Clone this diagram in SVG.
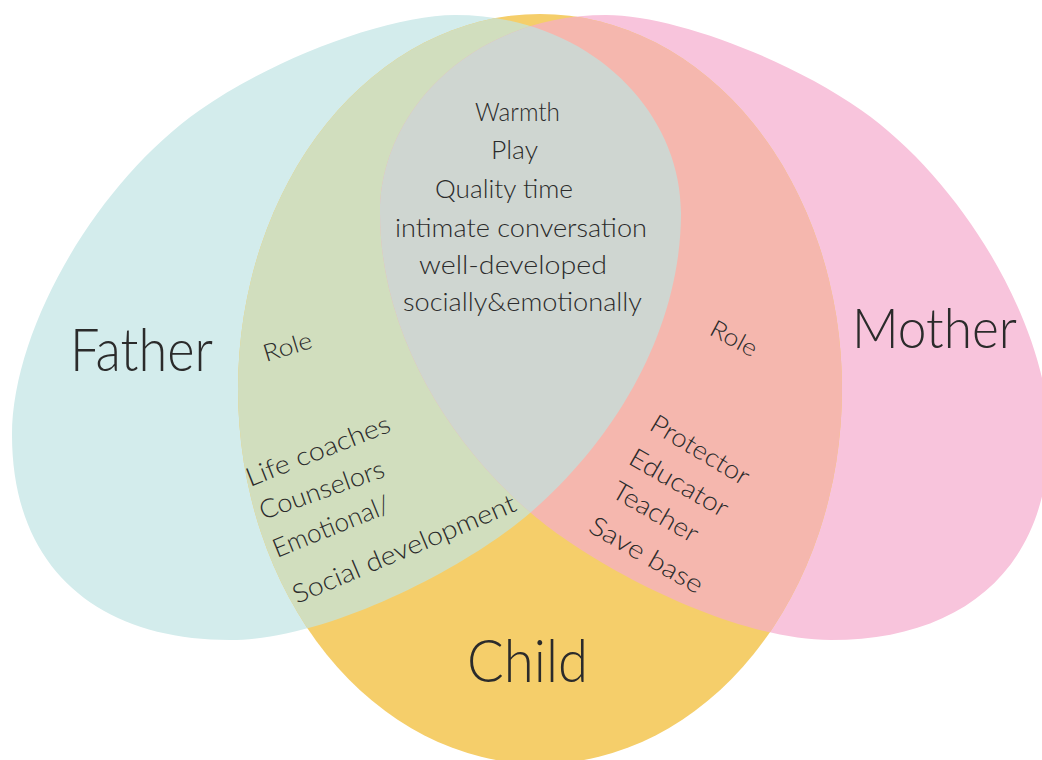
<svg xmlns="http://www.w3.org/2000/svg" xmlns:xlink="http://www.w3.org/1999/xlink" width="1042" height="760" viewBox="0 0 1042 760">
<style>
.t{font-family:"Lato","Open Sans","DejaVu Sans",sans-serif;font-weight:300;fill:#2b2b2b}
.big{font-size:60px}
.mid{font-size:26px}
.sm{font-size:24px}
</style>
<defs>
<path id="fatherShape" d="M455,15 C585,15 681,108 681,213 C681,330 615,440 530,513 C470,565 330,640 230,640 C100,640 12,570 12,435 C12,329 96.6,182.4 200,110 C274.6,57.75 389.4,15 455,15 Z"/>
<path id="motherShape" d="M606,15 C476,15 380,108 380,213 C380,330 446,440 531,513 C591,565 731,640 831,640 C961,640 1049,570 1049,435 C1049,329 964.4,182.4 861,110 C786.4,57.75 671.6,15 606,15 Z"/>
<ellipse id="childShape" cx="540" cy="389" rx="302" ry="375"/>
<clipPath id="clipFather"><use xlink:href="#fatherShape"/></clipPath>
<clipPath id="clipChild"><use xlink:href="#childShape"/></clipPath>
</defs>
<rect width="1042" height="760" fill="#ffffff"/>
<g id="father">
<use xlink:href="#fatherShape" fill="#d3ecec"/>
</g>
<g id="mother">
<use xlink:href="#motherShape" fill="#f8c4dc"/>
</g>
<g id="child">
<use xlink:href="#childShape" fill="#f5ce6a"/>
</g>
<g id="overlaps">
<use xlink:href="#fatherShape" fill="#d1debe" clip-path="url(#clipChild)"/>
<use xlink:href="#motherShape" fill="#f5b7ae" clip-path="url(#clipChild)"/>
<g clip-path="url(#clipChild)"><use xlink:href="#motherShape" fill="#cfd6d1" clip-path="url(#clipFather)"/></g>
</g>
<g id="connectors"/>
<g id="labels">
<text class="t big" x="70" y="371" textLength="143" lengthAdjust="spacingAndGlyphs">Father</text>
<text class="t big" x="852" y="348" style="font-size:56px" textLength="165" lengthAdjust="spacingAndGlyphs">Mother</text>
<text class="t big" x="467" y="682" textLength="121" lengthAdjust="spacingAndGlyphs">Child</text>
</g>
<g id="shared">
<text class="t mid" x="475" y="121" textLength="85" lengthAdjust="spacingAndGlyphs">Warmth</text>
<text class="t mid" x="491" y="159" textLength="47" lengthAdjust="spacingAndGlyphs">Play</text>
<text class="t mid" x="435" y="198" textLength="138" lengthAdjust="spacingAndGlyphs">Quality time</text>
<text class="t mid" x="395" y="237" textLength="252" lengthAdjust="spacingAndGlyphs">intimate conversation</text>
<text class="t mid" x="419" y="274" textLength="188" lengthAdjust="spacingAndGlyphs">well-developed</text>
<text class="t mid" x="403" y="311" textLength="239" lengthAdjust="spacingAndGlyphs">socially&amp;emotionally</text>
</g>
<g id="father-role">
<text class="t sm" transform="translate(266,362) rotate(-17)" textLength="50" lengthAdjust="spacingAndGlyphs">Role</text>
<text class="t mid" transform="translate(250,487) rotate(-21.5)" textLength="153" lengthAdjust="spacingAndGlyphs">Life coaches</text>
<text class="t mid" transform="translate(263,520) rotate(-19.5)" textLength="131" lengthAdjust="spacingAndGlyphs">Counselors</text>
<text class="t mid" transform="translate(277,558) rotate(-22)" textLength="124" lengthAdjust="spacingAndGlyphs">Emotional/</text>
<text class="t mid" transform="translate(297,604) rotate(-23)" textLength="240" lengthAdjust="spacingAndGlyphs">Social development</text>
</g>
<g id="mother-role">
<text class="t sm" transform="translate(708,334) rotate(28)" textLength="50" lengthAdjust="spacingAndGlyphs">Role</text>
<text class="t mid" transform="translate(648,429) rotate(31)" textLength="111" lengthAdjust="spacingAndGlyphs">Protector</text>
<text class="t mid" transform="translate(627,463) rotate(30)" textLength="110" lengthAdjust="spacingAndGlyphs">Educator</text>
<text class="t mid" transform="translate(610,496) rotate(30)" textLength="95" lengthAdjust="spacingAndGlyphs">Teacher</text>
<text class="t mid" transform="translate(587,531) rotate(30)" textLength="127" lengthAdjust="spacingAndGlyphs">Save base</text>
</g>
</svg>
